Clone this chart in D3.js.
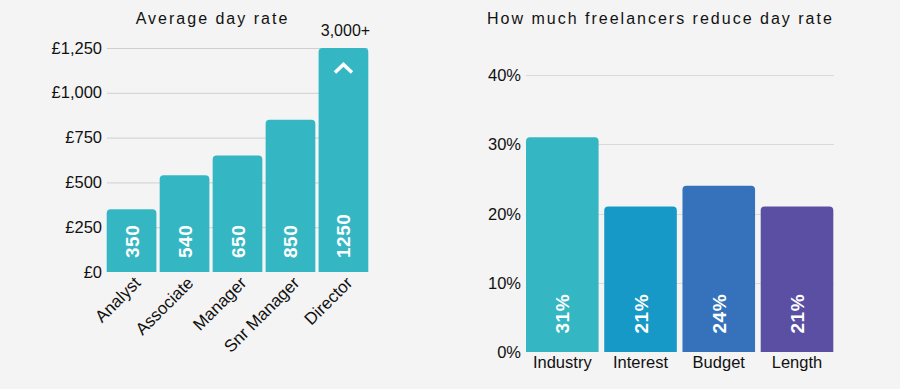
<!DOCTYPE html>
<html>
<head>
<meta charset="utf-8">
<script src="https://cdn.jsdelivr.net/npm/d3@7"></script>
<style>
  body { margin: 0; background: #f4f4f4; }
  svg { display: block; font-family: "Liberation Sans", Arial, sans-serif; }
</style>
</head>
<body>
<svg id="chart" width="900" height="389"></svg>
<script>
// left chart data
const roles = ["Analyst", "Associate", "Manager", "Snr Manager", "Director"];
const dayRates = [350, 540, 650, 850, 1250];
const rateTicks = [0, 250, 500, 750, 1000, 1250];

// right chart data
const reasons = ["Industry", "Interest", "Budget", "Length"];
const reductions = [0.31, 0.21, 0.24, 0.21];
const reductionTicks = [0, 0.1, 0.2, 0.3, 0.4];
const reasonColors = ["#35b6c3", "#1699c6", "#3672bc", "#5b4fa3"];

const svg = d3.select("#chart");

// bar with rounded top corners
function topRounded(x, y, w, h, r) {
  r = Math.min(r, h, w / 2);
  return "M" + x + "," + (y + h) +
    "V" + (y + r) +
    "Q" + x + "," + y + " " + (x + r) + "," + y +
    "H" + (x + w - r) +
    "Q" + (x + w) + "," + y + " " + (x + w) + "," + (y + r) +
    "V" + (y + h) + "Z";
}

//////// Left chart
let xL = d3.scaleBand().domain(roles).range([106.7, 368.3]).paddingInner(0.062);
let yL = d3.scaleLinear().domain([0, 1250]).range([272, 48]);

let left = svg.append("g");

left.append("text")
  .attr("x", 212.5).attr("y", 24)
  .attr("text-anchor", "middle")
  .style("font-size", "16px").style("letter-spacing", "2px")
  .attr("fill", "#111")
  .text("Average day rate");

left.selectAll(".gridL").data(rateTicks.filter(d => d > 0)).enter()
  .append("line")
  .attr("x1", 107).attr("x2", 368)
  .attr("y1", d => yL(d) + 0.5).attr("y2", d => yL(d) + 0.5)
  .attr("stroke", "#cfcfcf").attr("stroke-width", 1);

left.selectAll(".tickL").data(rateTicks).enter()
  .append("text")
  .attr("x", 102).attr("y", d => yL(d) + 5.5)
  .attr("text-anchor", "end")
  .style("font-size", "16.5px").attr("fill", "#111")
  .text(d => "£" + d3.format(",")(d));

left.selectAll(".barL").data(dayRates).enter()
  .append("path")
  .attr("d", (d, i) => topRounded(xL(roles[i]), yL(d), xL.bandwidth(), yL(0) - yL(d), 4))
  .attr("fill", "#35b6c3");

left.selectAll(".valL").data(dayRates).enter()
  .append("text")
  .attr("transform", (d, i) => "translate(" + (xL(roles[i]) + xL.bandwidth() / 2 + 7) + "," + 258 + ") rotate(-90)")
  .style("font-size", "19px").style("font-weight", "bold")
  .style("letter-spacing", "0.5px")
  .attr("fill", "#fff")
  .text(d => d);

left.selectAll(".labL").data(roles).enter()
  .append("text")
  .attr("transform", d => "translate(" + (xL(d) + xL.bandwidth() / 2 + 10) + "," + 284 + ") rotate(-45)")
  .attr("text-anchor", "end")
  .style("font-size", "17px").attr("fill", "#111")
  .text(d => d);

// director bar is capped: 3,000+ note and chevron
let dirX = xL("Director") + xL.bandwidth() / 2;
left.append("text")
  .attr("x", dirX + 2).attr("y", 36)
  .attr("text-anchor", "middle")
  .style("font-size", "16px").attr("fill", "#111")
  .text("3,000+");

left.append("path")
  .attr("d", "M" + (dirX - 8.5) + "," + 72.5 + "L" + (dirX) + "," + 64.5 + "L" + (dirX + 8.5) + "," + 72.5)
  .attr("fill", "none").attr("stroke", "#fff")
  .attr("stroke-width", 3.5);

//////// Right chart
let xR = d3.scaleBand().domain(reasons).range([526, 833.3]).paddingInner(0.072);
let yR = d3.scaleLinear().domain([0, 0.4]).range([352, 75]);

let right = svg.append("g");

right.append("text")
  .attr("x", 487).attr("y", 24)
  .style("font-size", "16px").style("letter-spacing", "2px")
  .attr("fill", "#111")
  .text("How much freelancers reduce day rate");

right.selectAll(".gridR").data(reductionTicks.filter(d => d > 0)).enter()
  .append("line")
  .attr("x1", 526).attr("x2", 834)
  .attr("y1", d => Math.round(yR(d)) + 0.5).attr("y2", d => Math.round(yR(d)) + 0.5)
  .attr("stroke", "#dadada").attr("stroke-width", 1);

right.selectAll(".tickR").data(reductionTicks).enter()
  .append("text")
  .attr("x", 521).attr("y", d => yR(d) + 6)
  .attr("text-anchor", "end")
  .style("font-size", "16.5px").attr("fill", "#111")
  .text(d => d3.format(".0%")(d));

right.selectAll(".barR").data(reductions).enter()
  .append("path")
  .attr("d", (d, i) => topRounded(xR(reasons[i]), yR(d), xR.bandwidth(), yR(0) - yR(d), 4))
  .attr("fill", (d, i) => reasonColors[i]);

right.selectAll(".valR").data(reductions).enter()
  .append("text")
  .attr("transform", (d, i) => "translate(" + (xR(reasons[i]) + xR.bandwidth() / 2 + 7) + "," + 333.5 + ") rotate(-90)")
  .style("font-size", "19px").style("font-weight", "bold")
  .style("letter-spacing", "0.5px")
  .attr("fill", "#fff")
  .text(d => d3.format(".0%")(d));

right.selectAll(".labR").data(reasons).enter()
  .append("text")
  .attr("x", d => xR(d) + xR.bandwidth() / 2)
  .attr("y", 368)
  .attr("text-anchor", "middle")
  .style("font-size", "16.5px").attr("fill", "#111")
  .text(d => d);
</script>
</body>
</html>
